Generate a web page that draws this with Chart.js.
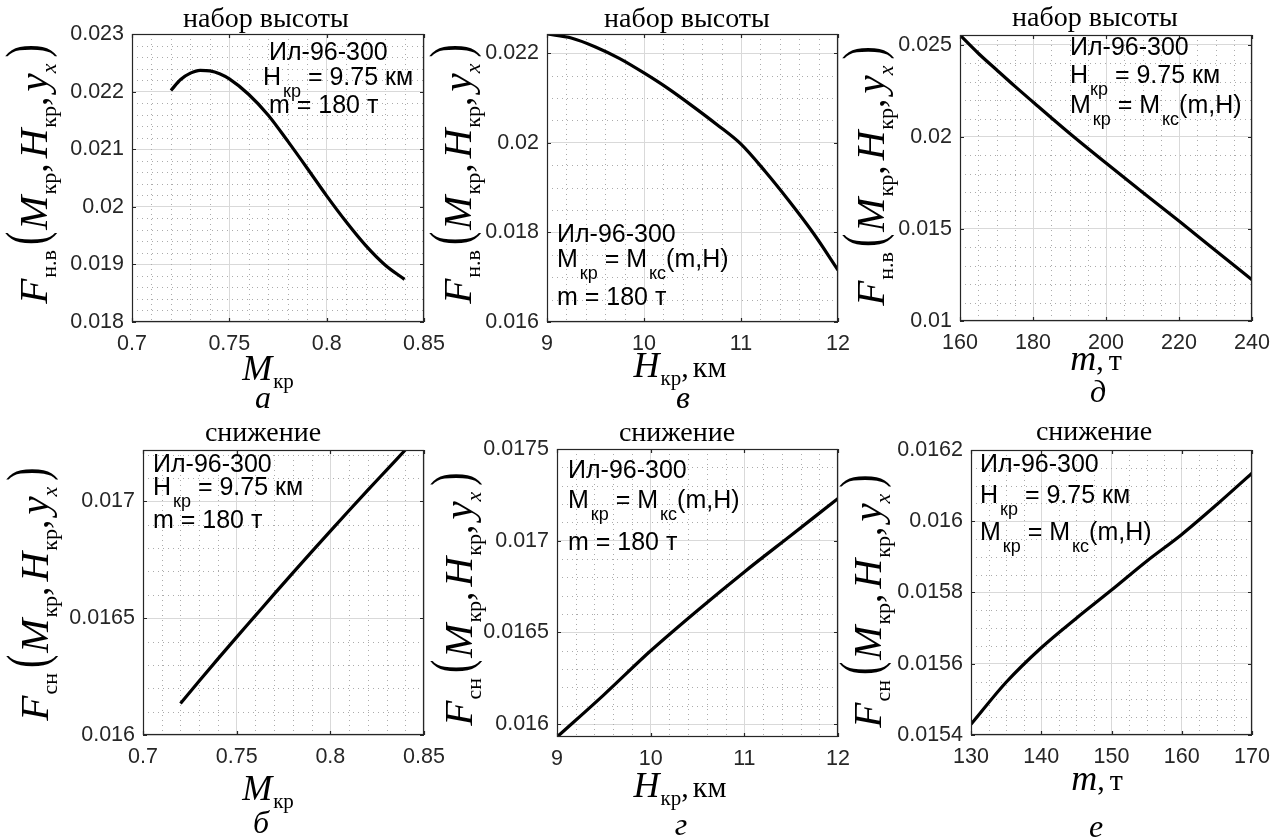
<!DOCTYPE html>
<html lang="ru">
<head>
<meta charset="utf-8">
<title>Ил-96-300: F(M, H, y)</title>
<script src="https://cdn.jsdelivr.net/npm/chart.js@4.4.0/dist/chart.umd.min.js"></script>
<style>
  html, body { margin: 0; padding: 0; background: #fff; }
  body { width: 1278px; height: 840px; position: relative; overflow: hidden; }
  canvas { position: absolute; }
</style>
</head>
<body>
<script>
// шрифты и цвета
const SANS = '"Liberation Sans", Arial, Helvetica, sans-serif';
const SERIF = '"Liberation Serif", "Times New Roman", Times, serif';
const AXIS_COLOR = '#262626';
const GRID_COLOR = '#d9d9d9';
const MINOR_COLOR = '#ababab';

// поля вокруг области построения, px
const PAD_L = 140, PAD_R = 30, PAD_T = 34, PAD_B = 106;

// ---- набор высоты ----
// а) по числу M, H = 9.75 км, m = 180 т
const climbMach  = [0.72, 0.725, 0.73, 0.735, 0.74, 0.745, 0.75, 0.76, 0.77, 0.78, 0.79, 0.80, 0.81, 0.82, 0.83, 0.84];
const climbMachF = [0.02202, 0.02221, 0.02232, 0.02237, 0.02236, 0.02231, 0.02222, 0.02195, 0.02159, 0.02114, 0.02067, 0.02019, 0.01974, 0.01933, 0.01899, 0.01874];
// в) по высоте, M = Mкс(m,H)
const climbAlt  = [9, 9.25, 9.5, 9.75, 10, 10.25, 10.5, 10.75, 11, 11.25, 11.5, 11.75, 12];
const climbAltF = [0.02243, 0.02234, 0.02214, 0.02188, 0.02156, 0.02121, 0.02082, 0.02041, 0.01997, 0.01936, 0.01869, 0.01797, 0.01716];
// д) по массе
const climbMass  = [160, 165, 170, 175, 180, 190, 200, 210, 220, 230, 240];
const climbMassF = [0.02554, 0.02455, 0.02365, 0.02276, 0.02190, 0.02020, 0.01858, 0.01700, 0.01543, 0.01383, 0.01224];

// ---- снижение ----
// б) по числу M
const descMach  = [0.72, 0.73, 0.74, 0.75, 0.76, 0.77, 0.78, 0.79, 0.80, 0.81, 0.82, 0.83, 0.84];
const descMachF = [0.016135, 0.016231, 0.016326, 0.016419, 0.016511, 0.016603, 0.016694, 0.016784, 0.016873, 0.016961, 0.017048, 0.017134, 0.01722];
// г) по высоте
const descAlt  = [9, 9.5, 10, 10.5, 11, 11.5, 12];
const descAltF = [0.01593, 0.01616, 0.01640, 0.01662, 0.01683, 0.01703, 0.01723];
// е) по массе
const descMass  = [130, 135, 140, 145, 150, 155, 160, 165, 170];
const descMassF = [0.01543, 0.015548, 0.015645, 0.015728, 0.015807, 0.015888, 0.015963, 0.016047, 0.016135];

// подписи делений
const machTicks = ['0.7', '0.75', '0.8', '0.85'];
const altTicks = ['9', '10', '11', '12'];
const climbMassTicks = ['160', '180', '200', '220', '240'];
const descMassTicks = ['130', '140', '150', '160', '170'];
const climbMachTicksY = ['0.018', '0.019', '0.02', '0.021', '0.022', '0.023'];
const climbAltTicksY = ['0.016', '0.018', '0.02', '0.022'];
const climbMassTicksY = ['0.01', '0.015', '0.02', '0.025'];
const descMachTicksY = ['0.016', '0.0165', '0.017'];
const descAltTicksY = ['0.016', '0.0165', '0.017', '0.0175'];
const descMassTicksY = ['0.0154', '0.0156', '0.0158', '0.016', '0.0162'];

// куски текста: t — строка, font, dy — сдвиг вниз (индекс), dx — отступ слева, sy — растяжка по высоте
const sans = (t, dx = 0) => ({ t, font: `25px ${SANS}`, dx });
const sansSub = t => ({ t, font: `18px ${SANS}`, dy: 12, dx: 2 });
const serifIt = (t, size, dx = 0) => ({ t, font: `italic ${size}px ${SERIF}`, dx });
const serif = (t, size, dy = 0, dx = 0) => ({ t, font: `${size}px ${SERIF}`, dy, dx });
const bigParen = (t, dx) => ({ t, font: `40px ${SERIF}`, dy: -2, dx, sy: 1.4 });

const lineAircraft = [sans('Ил-96-300')];
const lineH = [sans('H'), sansSub('кр'), sans(' = 9.75 км')];
const lineM = [sans('M'), sansSub('кр'), sans(' = M'), sansSub('кс'), sans('(m,H)')];
const lineMass = [sans('m = 180 т')];

function yLabel(sub) {
  return [
    serifIt('F', 41),
    serif(sub, 22, 9, 1),
    bigParen('(', 5),
    serifIt('M', 41, 2),
    serif('кр', 22, 9, 1),
    serif(',', 38),
    serifIt('H', 41, 5),
    serif('кр', 22, 9, 1),
    serif(',', 38),
    serifIt('y', 41, 5),
    { ...serifIt('x', 22), dy: 9 },
    bigParen(')', 6)
  ];
}
const xMach = [serifIt('M', 36), serif('кр', 21, 8, 1)];
const xAlt = [serifIt('H', 36), serif('кр', 21, 8, 1), serif(',', 30), serif('км', 30, 0, 4)];
const xMass = [serifIt('m', 36), serif(',', 30), serif('т', 30, 0, 5)];

const panels = [
  { id: 'a', plot: [132, 34, 424, 322], xs: climbMach, ys: climbMachF,
    xTicks: machTicks, yTicks: climbMachTicksY, xRange: [0.7, 0.85], yRange: [0.018, 0.023], minor: [0.01, 0.0002],
    title: ['набор высоты', 266, 27], yLab: ['н.в', 47, 174], xLab: [xMach, 268, 380], letter: ['а', 263, 408],
    notes: [[lineAircraft, 269, 60], [lineH, 263, 85], [lineMass, 269, 113]] },
  { id: 'v', plot: [547, 34, 838, 322], xs: climbAlt, ys: climbAltF,
    xTicks: altTicks, yTicks: climbAltTicksY, xRange: [9, 12], yRange: [0.016, 0.02243], minor: [0.2, 0.0005],
    title: ['набор высоты', 687, 27], yLab: ['н.в', 471, 174], xLab: [xAlt, 680, 377], letter: ['в', 683, 408],
    notes: [[lineAircraft, 557, 242], [lineM, 557, 267], [lineMass, 557, 305]] },
  { id: 'd', plot: [960, 35, 1252, 321], xs: climbMass, ys: climbMassF,
    xTicks: climbMassTicks, yTicks: climbMassTicksY, xRange: [160, 240], yRange: [0.01, 0.02554], minor: [5, 0.001],
    title: ['набор высоты', 1095, 26], yLab: ['н.в', 884, 176], xLab: [xMass, 1096, 370], letter: ['д', 1098, 402],
    notes: [[lineAircraft, 1070, 55], [lineH, 1070, 83], [lineM, 1070, 113]] },
  { id: 'b', plot: [143, 450, 424, 735], xs: descMach, ys: descMachF,
    xTicks: machTicks, yTicks: descMachTicksY, xRange: [0.7, 0.85], yRange: [0.016, 0.01722], minor: [0.01, 0.0001],
    title: ['снижение', 263, 441], yLab: ['сн', 48, 594], xLab: [xMach, 268, 800], letter: ['б', 261, 833],
    notes: [[lineAircraft, 153, 472], [lineH, 153, 495], [lineMass, 153, 528]] },
  { id: 'g', plot: [557, 449, 838, 737], xs: descAlt, ys: descAltF,
    xTicks: altTicks, yTicks: descAltTicksY, xRange: [9, 12], yRange: [0.01593, 0.0175], minor: [0.2, 0.0001],
    title: ['снижение', 677, 441], yLab: ['сн', 472, 599], xLab: [xAlt, 680, 797], letter: ['г', 681, 835],
    notes: [[lineAircraft, 568, 478], [lineM, 568, 508], [lineMass, 568, 550]] },
  { id: 'e', plot: [971, 450, 1252, 735], xs: descMass, ys: descMassF,
    xTicks: descMassTicks, yTicks: descMassTicksY, xRange: [130, 170], yRange: [0.0154, 0.0162], minor: [2.5, 0.00005],
    title: ['снижение', 1094, 440], yLab: ['сн', 881, 601], xLab: [xMass, 1097, 790], letter: ['е', 1096, 837],
    notes: [[lineAircraft, 980, 472], [lineH, 980, 503], [lineM, 980, 540]] }
];

// рисует строку из кусков с разными шрифтами; align: 'left' | 'center'
function drawRuns(ctx, x, y, runs, align) {
  let w = 0;
  runs.forEach(r => { ctx.font = r.font; w += ctx.measureText(r.t).width + (r.dx || 0); });
  let cx = align === 'center' ? x - w / 2 : x;
  runs.forEach(r => {
    ctx.font = r.font;
    cx += r.dx || 0;
    if (r.sy) {
      ctx.save();
      ctx.translate(cx, y + (r.dy || 0));
      ctx.scale(1, r.sy);
      ctx.fillText(r.t, 0, 0);
      ctx.restore();
    } else {
      ctx.fillText(r.t, cx, y + (r.dy || 0));
    }
    cx += ctx.measureText(r.t).width;
  });
}

function minorValues(min, max, step) {
  const out = [];
  const i0 = Math.ceil(min / step - 1e-6), i1 = Math.floor(max / step + 1e-6);
  for (let i = i0; i <= i1; i++) out.push(i * step);
  return out;
}

// мелкая сетка, рамка, засечки и все надписи панели
function decor(p, left, top) {
  const X = v => v - left, Y = v => v - top;
  return {
    id: 'decor',
    beforeDatasetsDraw(chart) {
      const { ctx, chartArea: a, scales: { x, y } } = chart;
      const majX = p.xTicks.map(Number), majY = p.yTicks.map(Number);
      ctx.save();
      ctx.strokeStyle = MINOR_COLOR;
      ctx.lineWidth = 1;
      ctx.setLineDash([1, 4]);
      ctx.beginPath();
      minorValues(p.xRange[0], p.xRange[1], p.minor[0]).forEach(v => {
        if (majX.some(m => Math.abs(m - v) < p.minor[0] / 10)) return;
        const px = Math.round(x.getPixelForValue(v)) + 0.5;
        ctx.moveTo(px, a.top); ctx.lineTo(px, a.bottom);
      });
      minorValues(p.yRange[0], p.yRange[1], p.minor[1]).forEach(v => {
        if (majY.some(m => Math.abs(m - v) < p.minor[1] / 10)) return;
        const py = Math.round(y.getPixelForValue(v)) + 0.5;
        ctx.moveTo(a.left, py); ctx.lineTo(a.right, py);
      });
      ctx.stroke();
      ctx.restore();
    },
    afterDraw(chart) {
      const { ctx, chartArea: a, scales: { x, y } } = chart;
      ctx.save();
      // рамка и засечки внутрь
      ctx.strokeStyle = AXIS_COLOR;
      ctx.lineWidth = 1.2;
      ctx.strokeRect(a.left + 0.5, a.top + 0.5, a.right - a.left - 1, a.bottom - a.top - 1);
      ctx.beginPath();
      p.xTicks.forEach(t => {
        const px = Math.round(x.getPixelForValue(+t)) + 0.5;
        ctx.moveTo(px, a.bottom); ctx.lineTo(px, a.bottom - 4);
        ctx.moveTo(px, a.top); ctx.lineTo(px, a.top + 4);
      });
      p.yTicks.forEach(t => {
        const py = Math.round(y.getPixelForValue(+t)) + 0.5;
        ctx.moveTo(a.left, py); ctx.lineTo(a.left + 4, py);
        ctx.moveTo(a.right, py); ctx.lineTo(a.right - 4, py);
      });
      ctx.stroke();

      ctx.fillStyle = '#000';
      ctx.textAlign = 'left';
      ctx.textBaseline = 'alphabetic';
      // заголовок
      drawRuns(ctx, X(p.title[1]), Y(p.title[2]), [serif(p.title[0], 28)], 'center');
      // подпись по оси y, повёрнутая
      ctx.save();
      ctx.translate(X(p.yLab[1]), Y(p.yLab[2]));
      ctx.rotate(-Math.PI / 2);
      drawRuns(ctx, 0, 0, yLabel(p.yLab[0]), 'center');
      ctx.restore();
      // подпись по оси x и буква панели
      drawRuns(ctx, X(p.xLab[1]), Y(p.xLab[2]), p.xLab[0], 'center');
      drawRuns(ctx, X(p.letter[1]), Y(p.letter[2]), [serifIt(p.letter[0], 32)], 'center');
      // пояснения внутри поля
      p.notes.forEach(([runs, nx, ny]) => drawRuns(ctx, X(nx), Y(ny), runs, 'left'));
      ctx.restore();
    }
  };
}

panels.forEach(p => {
  const [l, t, r, b] = p.plot;
  const left = l - PAD_L, top = t - PAD_T;
  const canvas = document.createElement('canvas');
  canvas.width = PAD_L + (r - l) + PAD_R;
  canvas.height = PAD_T + (b - t) + PAD_B;
  canvas.style.left = left + 'px';
  canvas.style.top = top + 'px';
  document.body.appendChild(canvas);

  const tickFont = { family: SANS, size: 21.5 };
  new Chart(canvas, {
    type: 'line',
    data: {
      datasets: [{
        data: p.xs.map((v, i) => ({ x: v, y: p.ys[i] })),
        borderColor: '#000',
        borderWidth: 3.2,
        pointRadius: 0,
        cubicInterpolationMode: 'monotone',
        fill: false
      }]
    },
    options: {
      responsive: false,
      animation: false,
      events: [],
      layout: { padding: { top: PAD_T, right: PAD_R, left: 0, bottom: 0 } },
      plugins: { legend: { display: false }, tooltip: { enabled: false } },
      scales: {
        x: {
          type: 'linear',
          bounds: 'data',
          min: p.xRange[0],
          max: p.xRange[1],
          afterFit: s => { s.height = PAD_B; },
          afterBuildTicks: s => { s.ticks = p.xTicks.map(v => ({ value: +v })); },
          ticks: { callback: (v, i) => p.xTicks[i], autoSkip: false, maxRotation: 0, padding: 9, color: AXIS_COLOR, font: tickFont },
          grid: { color: GRID_COLOR, lineWidth: 1, drawTicks: false },
          border: { display: false }
        },
        y: {
          type: 'linear',
          bounds: 'data',
          min: p.yRange[0],
          max: p.yRange[1],
          afterFit: s => { s.width = PAD_L; },
          afterBuildTicks: s => { s.ticks = p.yTicks.map(v => ({ value: +v })); },
          ticks: { callback: (v, i) => p.yTicks[i], autoSkip: false, padding: 8, color: AXIS_COLOR, font: tickFont },
          grid: { color: GRID_COLOR, lineWidth: 1, drawTicks: false },
          border: { display: false }
        }
      }
    },
    plugins: [decor(p, left, top)]
  });
});
</script>
</body>
</html>
